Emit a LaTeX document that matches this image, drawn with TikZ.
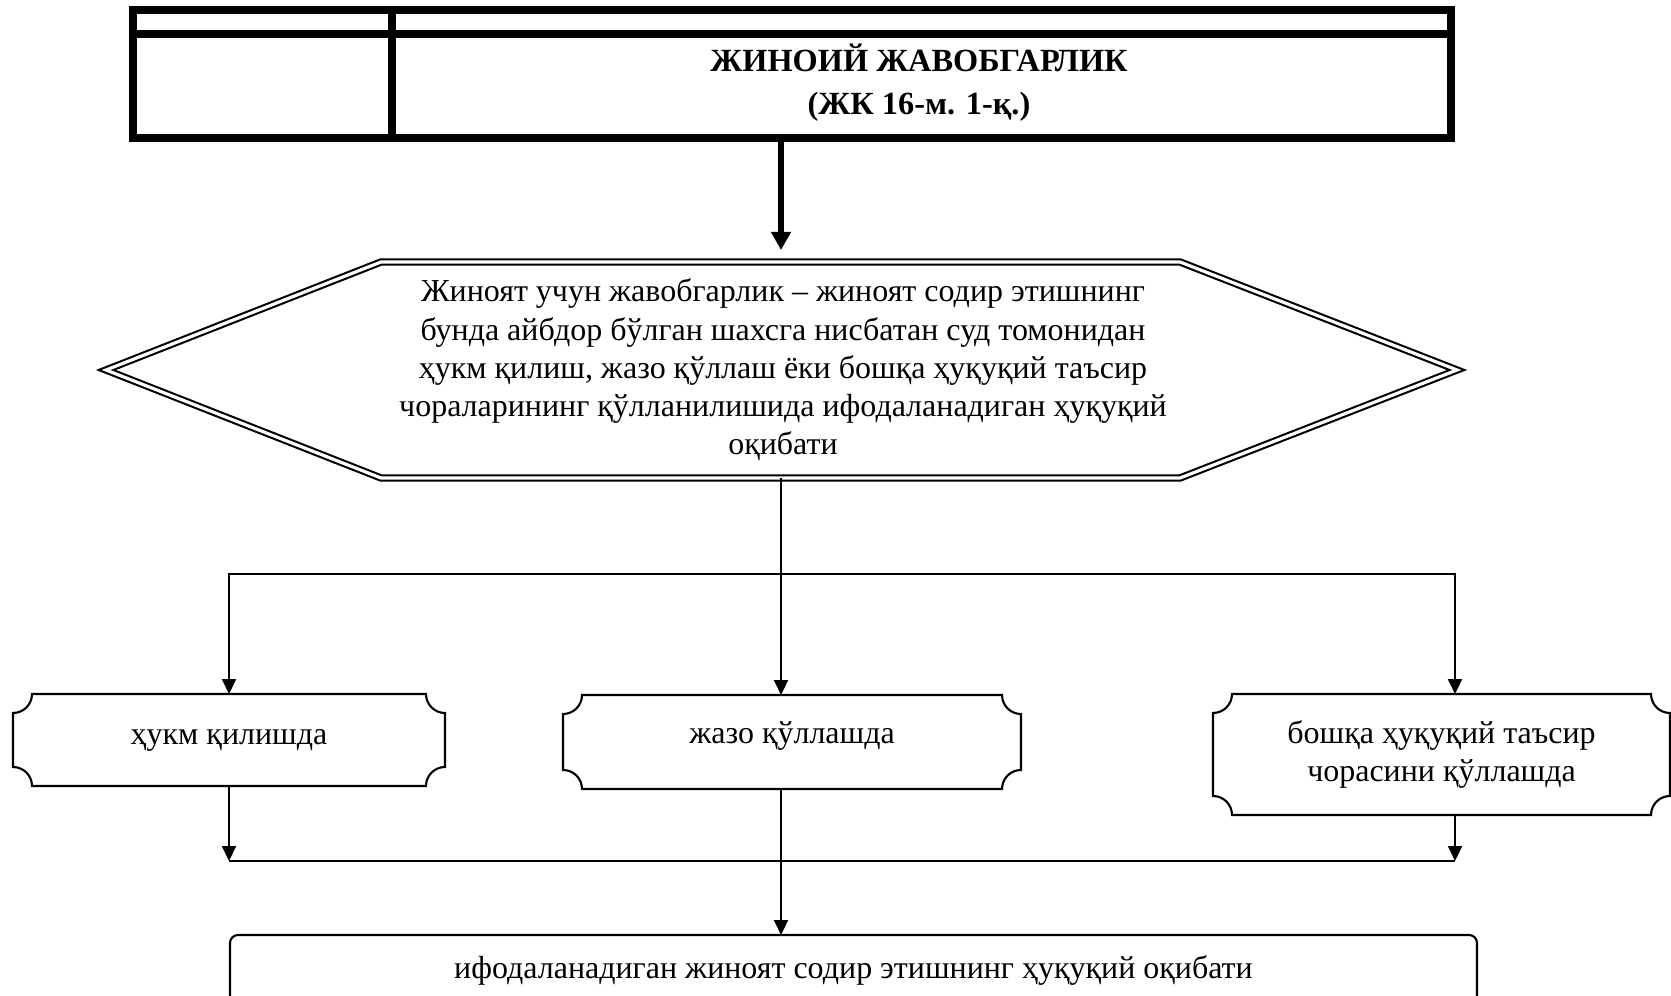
\documentclass[tikz,border=0pt]{standalone}
\usepackage{fontspec}
\setmainfont{Liberation Serif}
\usetikzlibrary{positioning,arrows.meta,calc}

% box with hollowed corners
\newcommand{\scrollbox}[1]{%
  \draw[line width=0.6pt] ($(#1.north west)+(1.9mm,0)$) -- ($(#1.north east)+(-1.9mm,0)$)
    arc[start angle=180,end angle=270,radius=1.9mm] -- ($(#1.south east)+(0,1.9mm)$)
    arc[start angle=90,end angle=180,radius=1.9mm] -- ($(#1.south west)+(1.9mm,0)$)
    arc[start angle=0,end angle=90,radius=1.9mm] -- ($(#1.north west)+(0,-1.9mm)$)
    arc[start angle=270,end angle=360,radius=1.9mm] -- cycle;}

\tikzset{
  txt/.style={font=\fontsize{9.1}{10.9}\selectfont,align=center,outer sep=0pt},
  arr/.style={-{Triangle[length=1.5mm,width=1.4mm]},line width=0.6pt},
  bigarr/.style={-{Triangle[length=1.8mm,width=1.9mm]},line width=1.7pt},
}

\begin{document}
\begin{tikzpicture}[x=0.1mm,y=0.1mm]
\useasboundingbox (0,0) rectangle (1671,995);
\clip (0,0) rectangle (1671,995);
% table at the top
\node[draw,line width=2.3pt,minimum width=131.8mm,minimum height=12.8mm] (tab) at (792,921) {};
\draw[line width=2.3pt] (tab.west |- 0,961) -- (tab.east |- 0,961) (392,0 |- tab.north) -- (392,0 |- tab.south);
\node[txt,font=\fontsize{9.2}{12.2}\selectfont\bfseries] (title) at (919,912) {ЖИНОИЙ ЖАВОБГАРЛИК\\(ЖК 16-м. 1-қ.)};
% definition
\node[txt] (def) at (783,625) {Жиноят учун жавобгарлик – жиноят содир этишнинг\\
  бунда айбдор бўлган шахсга нисбатан суд томонидан\\
  ҳукм қилиш, жазо қўллаш ёки бошқа ҳуқуқий таъсир\\
  чораларининг қўлланилишида ифодаланадиган ҳуқуқий\\ оқибати};
\coordinate (hextop) at (781,733);
\coordinate (hexbot) at (781,517);
\draw[double,line width=0.6pt,double distance=0.9pt] ($(def)+(-677,0)$) -- ($(def)+(-402,108)$)
  -- ($(def)+(397,108)$) -- ($(def)+(674,0)$) -- ($(def)+(397,-108)$) -- ($(def)+(-402,-108)$) -- cycle;
\draw[bigarr,shorten >=1.2mm] (tab.south -| hextop) -- (hextop);
% three ways
\node[txt,minimum width=43.2mm,minimum height=9.2mm] (left) at (229,255) {ҳукм қилишда};
\node[txt,minimum width=45.8mm,minimum height=9.4mm,text depth=1.8mm] (mid) at (792,253) {жазо қўллашда};
\node[txt,minimum width=45.7mm,minimum height=12.1mm] (right) at (1441.5,240.5) {бошқа ҳуқуқий таъсир\\ чорасини қўллашда};
\scrollbox{left} \scrollbox{mid} \scrollbox{right}
\coordinate (split) at (781,421);
\coordinate (rx) at (1455,134);
\draw[arr] (hexbot) -- (hexbot |- mid.north);
\draw[arr] (split) -| (left.north);
\draw[arr] (split) -| (rx |- right.north);
% result
\node[txt,draw,line width=0.6pt,rounded corners=0.8mm,minimum width=124.7mm,minimum height=7mm] (res) at (853.5,25)
  {ифодаланадиган жиноят содир этишнинг ҳуқуқий оқибати};
\draw[arr] (left.south) -- (left.south |- rx);
\draw[arr] (right.south -| rx) -- (rx);
\draw[line width=0.6pt] (left.south |- rx) -- (rx);
\draw[arr] (mid.south -| hexbot) -- (res.north -| hexbot);
\end{tikzpicture}
\end{document}
